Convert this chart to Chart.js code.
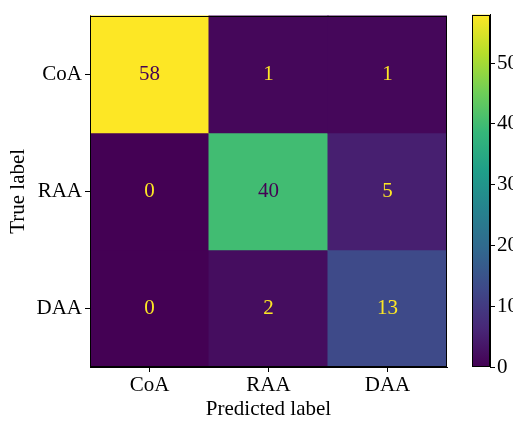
<!DOCTYPE html>
<html>
<head>
<meta charset="utf-8">
<script src="https://cdn.jsdelivr.net/npm/chart.js@4"></script>
<style>
  body { margin: 0; background: #fff; }
  #wrap { position: relative; width: 513px; height: 424px; overflow: hidden; }
  #matrix { position: absolute; left: 0; top: 0; }
  #cbar { position: absolute; left: 460px; top: 0; }
</style>
</head>
<body>
<div id="wrap">
  <canvas id="matrix" width="465" height="424"></canvas>
  <canvas id="cbar" width="53" height="424"></canvas>
</div>
<script>
const predLabels = ['CoA', 'RAA', 'DAA'];
const trueLabels = ['CoA', 'RAA', 'DAA'];
// rows = true label, columns = predicted label
const coaRow = [58, 1, 1];
const raaRow = [0, 40, 5];
const daaRow = [0, 2, 13];
const rows = [coaRow, raaRow, daaRow];
const cbarTicks = [0, 10, 20, 30, 40, 50];

const serif = "'Liberation Serif', 'DejaVu Serif', serif";
const fs = 21;
const vmin = 0;
const vmax = Math.max(...rows.flat());

// viridis, 10 evenly spaced stops
const viridis = ['#440154', '#482878', '#3e4989', '#31688e', '#26828e',
                 '#1f9e89', '#35b779', '#6ece58', '#b5de2b', '#fde725'];
function hex(h) { return [1, 3, 5].map(i => parseInt(h.substr(i, 2), 16)); }
function cmap(t) {
    t = Math.max(0, Math.min(1, t));
    const p = t * (viridis.length - 1);
    const i = Math.min(Math.floor(p), viridis.length - 2);
    const f = p - i;
    const a = hex(viridis[i]), b = hex(viridis[i + 1]);
    const c = a.map((v, k) => Math.round(v + (b[k] - v) * f));
    return `rgb(${c[0]},${c[1]},${c[2]})`;
}
const norm = v => (v - vmin) / (vmax - vmin);

const datasets = rows.map((row, r) => ({
    label: trueLabels[r],
    data: row.map(() => [r, r + 1]),
    backgroundColor: row.map(v => cmap(norm(v))),
    borderWidth: 0,
    inflateAmount: 0.5,
    clip: 0,
    grouped: false,
    barPercentage: 1,
    categoryPercentage: 1
}));

const cellText = {
    id: 'cellText',
    afterDatasetsDraw(chart) {
        const { ctx, scales: { x, y } } = chart;
        ctx.save();
        ctx.font = `${fs}px ${serif}`;
        ctx.textAlign = 'center';
        ctx.textBaseline = 'middle';
        rows.forEach((row, r) => {
            row.forEach((v, c) => {
                ctx.fillStyle = v < (vmax + vmin) / 2 ? viridis[9] : viridis[0];
                ctx.fillText(String(v), x.getPixelForValue(c), y.getPixelForValue(r + 0.5));
            });
        });
        ctx.restore();
    }
};

const frame = {
    id: 'frame',
    afterDraw(chart) {
        const a = chart.chartArea;
        const ctx = chart.ctx;
        ctx.save();
        ctx.strokeStyle = '#000';
        ctx.lineWidth = 1;
        ctx.strokeRect(Math.round(a.left) + 0.5, Math.round(a.top) + 0.5,
            Math.round(a.right - a.left) - 1, Math.round(a.bottom - a.top) - 1);
        ctx.restore();
    }
};

// plot area 357 x 357 so each cell is about 119 px
new Chart(document.getElementById('matrix'), {
    type: 'bar',
    data: { labels: predLabels, datasets: datasets },
    options: {
        responsive: false,
        animation: false,
        layout: { padding: { top: 10, right: 18, bottom: 0, left: 0 } },
        plugins: { legend: { display: false }, tooltip: { enabled: false } },
        scales: {
            x: {
                grid: { offset: false, drawOnChartArea: false, tickLength: 5, color: '#000' },
                border: { color: '#000' },
                ticks: { color: '#000', font: { family: serif, size: fs }, padding: 1 },
                title: { display: true, text: 'Predicted label', color: '#000',
                         font: { family: serif, size: fs }, padding: { top: 0, bottom: 2 } },
                afterFit(axis) { axis.height = 57; }
            },
            y: {
                min: 0, max: 3, reverse: true,
                afterBuildTicks(axis) { axis.ticks = [0.5, 1.5, 2.5].map(v => ({ value: v })); },
                grid: { drawOnChartArea: false, tickLength: 5, color: '#000' },
                border: { color: '#000' },
                ticks: { color: '#000', font: { family: serif, size: fs }, padding: 3,
                         callback: v => trueLabels[Math.floor(v)] },
                title: { display: true, text: 'True label', color: '#000',
                         font: { family: serif, size: fs }, padding: { top: 6, bottom: 0 } },
                afterFit(axis) { axis.width = 90; }
            }
        }
    },
    plugins: [cellText, frame]
});

new Chart(document.getElementById('cbar'), {
    type: 'bar',
    data: {
        labels: [''],
        datasets: [{
            data: [[vmin, vmax]],
            backgroundColor(context) {
                const a = context.chart.chartArea;
                if (!a) return viridis[0];
                const g = context.chart.ctx.createLinearGradient(0, a.bottom, 0, a.top);
                viridis.forEach((col, i) => g.addColorStop(i / (viridis.length - 1), col));
                return g;
            },
            borderWidth: 0,
            barPercentage: 1,
            categoryPercentage: 1
        }]
    },
    options: {
        responsive: false,
        animation: false,
        layout: { padding: { top: 10, bottom: 57, left: 12, right: 0 } },
        plugins: { legend: { display: false }, tooltip: { enabled: false } },
        scales: {
            x: { display: false },
            y: {
                position: 'right',
                min: vmin, max: vmax,
                afterBuildTicks(axis) { axis.ticks = cbarTicks.map(v => ({ value: v })); },
                grid: { drawOnChartArea: false, tickLength: 5, color: '#000' },
                border: { color: '#000' },
                ticks: { color: '#000', font: { family: serif, size: fs }, padding: 2 },
                afterFit(axis) { axis.width = 23; }
            }
        }
    },
    plugins: [frame]
});
</script>
</body>
</html>
